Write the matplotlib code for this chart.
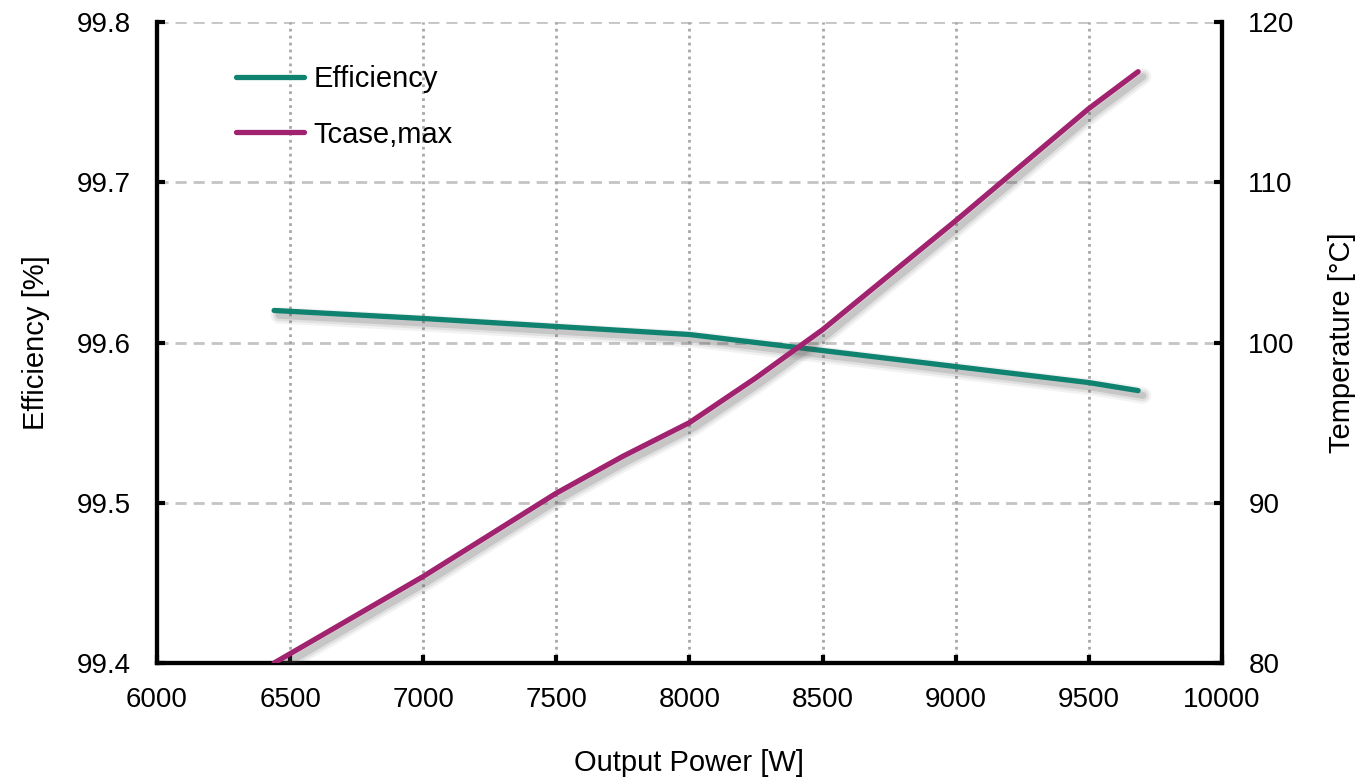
import matplotlib.pyplot as plt
import matplotlib.patheffects as pe

plt.rcParams['font.family'] = ['Liberation Sans', 'DejaVu Sans']

# data
power_eff = [6440, 7000, 7500, 8000, 8500, 9000, 9500, 9685]
efficiency = [99.620, 99.615, 99.610, 99.605, 99.595, 99.585, 99.575, 99.570]

power_temp = [6440, 7000, 7500, 7750, 8000, 8250, 8500, 9000, 9500, 9685]
tcase_max = [80.0, 85.4, 90.6, 92.9, 95.0, 97.8, 100.8, 107.6, 114.6, 116.9]

x_ticks = [6000, 6500, 7000, 7500, 8000, 8500, 9000, 9500, 10000]
eff_ticks = [99.4, 99.5, 99.6, 99.7, 99.8]
temp_ticks = [80, 90, 100, 110, 120]

TEAL = '#0f8270'
MAGENTA = '#a1236f'

fig = plt.figure(figsize=(13.6, 7.78), dpi=100)
ax = fig.add_axes([0.1154, 0.1478, 0.7831, 0.8239])
ax2 = ax.twinx()

# soft drop shadow (a few stacked layers to look blurred)
shadow = [pe.SimpleLineShadow(offset=(3.5, -3.5), shadow_color='#505050', alpha=0.07, linewidth=12),
          pe.SimpleLineShadow(offset=(3.5, -3.5), shadow_color='#505050', alpha=0.11, linewidth=8.5),
          pe.SimpleLineShadow(offset=(3.5, -3.5), shadow_color='#505050', alpha=0.18, linewidth=5),
          pe.Normal()]

l1, = ax.plot(power_eff, efficiency, color=TEAL, lw=3.8, solid_capstyle='round',
              solid_joinstyle='round', label='Efficiency', path_effects=shadow, zorder=3)
l2, = ax2.plot(power_temp, tcase_max, color=MAGENTA, lw=3.8, solid_capstyle='round',
               solid_joinstyle='round', label='Tcase,max', path_effects=shadow, zorder=3)

ax.set_xlim(6000, 10000)
ax.set_ylim(99.4, 99.8)
ax2.set_ylim(80, 120)
ax.set_xticks(x_ticks)
ax.set_yticks(eff_ticks)
ax2.set_yticks(temp_ticks)
ax.set_yticklabels([f'{v:.1f}' for v in eff_ticks])

# grid: dashed horizontal, dotted vertical
for v in eff_ticks:
    ax.axhline(v, color='#c4c4c4', lw=2, ls=(0, (4, 2.5)), zorder=1)
for v in x_ticks[1:-1]:
    ax.axvline(v, color='#a8a8a8', lw=2, ls=(0, (1, 1.5)), zorder=1)

for a in (ax, ax2):
    a.spines['top'].set_visible(False)
    for s in ('left', 'right', 'bottom'):
        a.spines[s].set_linewidth(3)
        a.spines[s].set_color('black')
    a.tick_params(direction='in', length=6, width=3, labelsize=20, colors='black')
ax.tick_params(axis='y', pad=19)
ax.tick_params(axis='x', pad=17)
ax2.tick_params(axis='y', pad=19)

ax.set_xlabel('Output Power [W]', fontsize=21, labelpad=26)
ax.set_ylabel('Efficiency [%]', fontsize=21, labelpad=19)
ax2.set_ylabel('Temperature [°C]', fontsize=21, labelpad=24)

leg = ax2.legend(handles=[l1, l2], loc='upper left', bbox_to_anchor=(0.05, 0.974),
                 frameon=False, fontsize=21, handlelength=2.33, labelspacing=0.95,
                 handletextpad=0.3)
for h in leg.get_lines():
    h.set_path_effects([])

fig.savefig('out.png', dpi=100)
